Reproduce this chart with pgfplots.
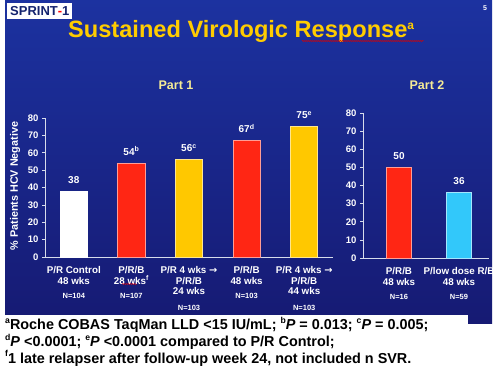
\documentclass[border=0pt]{standalone}
\usepackage{fontspec}
\setmainfont{Liberation Sans}
\newfontfamily\djv{DejaVu Sans}
\usepackage{pgfplots}
\pgfplotsset{compat=1.18}
\usetikzlibrary{decorations.pathmorphing}
\definecolor{bgtop}{RGB}{28,50,160}
\definecolor{bgbot}{RGB}{22,26,115}
\definecolor{barred}{RGB}{255,38,20}
\definecolor{baryel}{RGB}{255,200,0}
\definecolor{barcyan}{RGB}{50,200,250}
\definecolor{titley}{RGB}{255,204,0}
\definecolor{party}{RGB}{245,235,150}
\definecolor{axgray}{RGB}{215,220,235}
\definecolor{sprintblue}{RGB}{20,35,110}
\pgfplotsset{
  slide/.style={
    scale only axis, anchor=south west,
    ymin=0, ymax=80, ytick={0,10,...,80},
    axis x line=bottom, axis y line=left,
    axis line style={-, axgray, line width=0.7pt},
    tick style={axgray, line width=0.6pt},
    tick align=outside, major tick length=3pt,
    major x tick style={draw=none},
    /pgf/number format/assume math mode=true,
    yticklabel style={text=white, font=\fontsize{9.5}{9.5}\selectfont\bfseries},
    xticklabel style={text=white, align=center, font=\fontsize{9.8}{10.5}\selectfont\bfseries, yshift=-3pt},
    ybar, nodes near coords, point meta=explicit symbolic,
    nodes near coords style={text=white, font=\fontsize{10}{10}\selectfont\bfseries, yshift=4pt},
  }
}
\newcommand{\nn}[1]{{\fontsize{7.5}{7.5}\selectfont #1}}
\newcommand{\arr}{{\djv\bfseries →}}
\newcommand{\sps}[1]{\raisebox{0.45em}{\fontsize{0.6em}{0.6em}\selectfont #1}}
\begin{document}
\begin{tikzpicture}
\path[use as bounding box] (0,0) rectangle (500pt,-372pt);
\fill[white] (0,0) rectangle (500pt,-372pt);
\shade[top color=bgtop, bottom color=bgbot] (5pt,0) rectangle (492pt,-323pt);
\fill[white] (0,-315pt) rectangle (468pt,-372pt);
% header
\node[fill=white, inner xsep=3pt, inner ysep=0pt, minimum height=16pt, anchor=north west, font=\fontsize{13}{13}\selectfont\bfseries, text=sprintblue] at (7pt,-3pt) {SPRINT\textcolor{red}{-}1};
\node[text=white, font=\fontsize{7}{7}\selectfont\bfseries] at (485pt,-8pt) {5};
\node[anchor=base west, text=titley, font=\fontsize{23.6}{23.6}\selectfont\bfseries, inner sep=0pt] at (68pt,-37pt) {Sustained Virologic Response\raisebox{8pt}{\fontsize{12}{12}\selectfont a}};
\draw[red!85!black, line width=0.45pt, decorate, decoration={snake, amplitude=0.6pt, segment length=2pt}] (302pt,-41pt) -- (424pt,-41pt);
\node[text=party, font=\fontsize{12.5}{12.5}\selectfont\bfseries] at (176pt,-85pt) {Part 1};
\node[text=party, font=\fontsize{12.5}{12.5}\selectfont\bfseries] at (427pt,-85pt) {Part 2};
\node[rotate=90, text=white, font=\fontsize{10.8}{10.8}\selectfont\bfseries] at (15pt,-186pt) {\% Patients HCV Negative};
% Part 1
\begin{axis}[slide,
  at={(45pt,-257pt)}, width=288pt, height=139pt,
  xmin=-0.5, xmax=4.5, bar width=27pt,
  xtick={0,1,2,3,4},
  xticklabels={{P/R Control\\48 wks\\[4pt]\nn{N=104}},
               {P/R/B\\28 wks\textsuperscript{f}\\[4pt]\nn{N=107}},
               {P/R 4 wks \arr\\P/R/B\\24 wks\\[5pt]\nn{N=103}},
               {P/R/B\\48 wks\\[4pt]\nn{N=103}},
               {P/R 4 wks \arr\\P/R/B\\44 wks\\[5pt]\nn{N=103}}},
  extra x ticks={0.5,1.5,2.5,3.5}, extra x tick labels={},
  extra x tick style={major tick length=3pt, tick style={draw=axgray}},
]
\addplot[fill=white, draw=white, bar shift=0pt] coordinates {(0,38) [38]};
\addplot[fill=barred, draw=white!55!barred, line width=0.8pt, bar shift=0pt] coordinates {(1,54) [{54\textsuperscript{b}}] (3,67) [{67\textsuperscript{d}}]};
\addplot[fill=baryel, draw=white!55!baryel, line width=0.8pt, bar shift=0pt] coordinates {(2,56) [{56\textsuperscript{c}}] (4,75) [{75\textsuperscript{e}}]};
\end{axis}
% Part 2
\begin{axis}[slide,
  at={(363pt,-258pt)}, width=126pt, height=145pt,
  xmin=-0.6, xmax=1.5, bar width=25pt,
  xtick={0,1},
  xticklabels={{P/R/B\\48 wks\\[4pt]\nn{N=16}},
               {P/low dose R/B\\48 wks\\[4pt]\nn{N=59}}},
  extra x ticks={0.5}, extra x tick labels={},
  extra x tick style={major tick length=3pt, tick style={draw=axgray}},
]
\addplot[fill=barred, draw=white!55!barred, line width=0.8pt, bar shift=0pt] coordinates {(0,50) [50]};
\addplot[fill=barcyan, draw=white!55!barcyan, line width=0.8pt, bar shift=0pt] coordinates {(1,36) [36]};
\end{axis}
\draw[red, line width=0.45pt, decorate, decoration={snake, amplitude=0.5pt, segment length=2pt}] (122pt,-284pt) -- (137pt,-284pt);
% footnotes
\node[anchor=north west, align=left, inner sep=0pt, text=black, font=\fontsize{14.4}{15.5}\selectfont\bfseries] at (5pt,-317pt)
{\sps{a}Roche COBAS TaqMan LLD <15 IU/mL; \sps{b}\textit{P} = 0.013; \sps{c}\textit{P} = 0.005;\\
\sps{d}\textit{P} <0.0001; \sps{e}\textit{P} <0.0001 compared to P/R Control;\\
\sps{f}1 late relapser after follow-up week 24, not included n SVR.};
\end{tikzpicture}
\end{document}
